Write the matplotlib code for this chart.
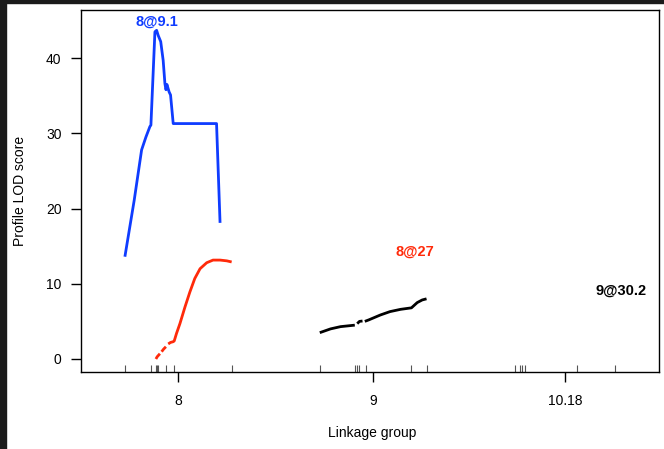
import matplotlib
matplotlib.use('Agg')
import matplotlib.pyplot as plt
from matplotlib.patches import Rectangle
import numpy as np

plt.rcParams['font.family'] = ['Liberation Sans', 'DejaVu Sans']

# ---- data ----
chr_names = ['8', '9', '10.18']
chr_lengths = [30.5, 30.5, 28.6]
gap = 25.0

markers_8 = [0, 7.3, 8.8, 9.1, 9.4, 11.6, 14.0, 30.5]
markers_9 = [0, 9.9, 10.5, 11.05, 13.3, 26.0, 30.4]
markers_10 = [0, 1.6, 2.2, 2.95, 17.7, 28.6]

# QTL 8@9.1 (chr 8)
blue_pos = [0, 2.65, 4.76, 5.98, 7.12, 7.41, 8.55, 9.03, 9.5, 10.2, 10.9, 11.4,
            11.7, 11.97, 12.6, 13.0, 13.76, 26.1, 27.1]
blue_lod = [13.6, 21.1, 27.8, 29.5, 30.9, 31.1, 43.5, 43.7, 43.0, 42.2, 39.7, 36.6,
            35.8, 36.5, 35.5, 35.1, 31.3, 31.3, 18.1]

# QTL 8@27 (chr 8), NaN = break in the profile
red_pos = [8.83, 9.2, 9.97, np.nan, 10.46, 11.0, 11.68, np.nan,
           12.34, 13.0, 13.76, 14.05, 14.7, 15.67, 17.1, 18.5, 19.9, 21.4, 23.3,
           25.1, 27.1, 29.0, 30.4]
red_lod = [0.0, 0.3, 0.7, np.nan, 0.97, 1.3, 1.63, np.nan,
           2.0, 2.2, 2.3, 2.4, 3.4, 4.7, 6.9, 8.9, 10.7, 12.0, 12.8,
           13.15, 13.15, 13.05, 12.9]

# QTL 9@30.2 (chr 9)
black_pos = [0, 3.05, 5.9, 9.97, np.nan, 10.66, 11.31, 12.17, np.nan,
             12.82, 13.96, 17.25, 20.0, 23.0, 26.1, 27.75, 29.17, 30.4]
black_lod = [3.5, 4.0, 4.3, 4.5, np.nan, 4.7, 5.0, 5.05, np.nan,
             5.0, 5.2, 5.85, 6.3, 6.6, 6.8, 7.5, 7.85, 8.0]

qtl_labels = ['8@9.1', '8@27', '9@30.2']
qtl_label_pos = [9.1, 27.0, 30.2]
qtl_colors = ['#0f3cff', '#ff2a0a', '#000000']

# ---- layout ----
offsets = []
acc = 0.0
for L in chr_lengths:
    offsets.append(acc)
    acc += L + gap
total_end = offsets[-1] + chr_lengths[-1]

W, H = 664, 449
fig = plt.figure(figsize=(W / 100, H / 100), dpi=100)
ax = fig.add_axes([81 / W, 1 - 372 / H, 578 / W, 362 / H])

# dark strips at the top and left edges
fig.patches.append(Rectangle((0, 0), 6 / W, 1, transform=fig.transFigure,
                             color='#1b1b1b', zorder=-10))
fig.patches.append(Rectangle((0, 1 - 3 / H), 1, 3 / H, transform=fig.transFigure,
                             color='#1b1b1b', zorder=-10))

ymin, ymax = -1.73, 46.4
ax.set_xlim(-gap / 2, total_end + gap / 2)
ax.set_ylim(ymin, ymax)

profiles = [(0, blue_pos, blue_lod), (0, red_pos, red_lod), (1, black_pos, black_lod)]
for (ci, pos, lod), col in zip(profiles, qtl_colors):
    x = np.array(pos, dtype=float) + offsets[ci]
    ax.plot(x, lod, color=col, lw=2.0, solid_capstyle='butt')

# QTL labels (placed at position + offset of the i-th chromosome)
for i, (lab, p, col) in enumerate(zip(qtl_labels, qtl_label_pos, qtl_colors)):
    lod = [blue_lod, red_lod, black_lod][i]
    ymaxlod = np.nanmax(lod)
    ax.annotate(lab, (offsets[i] + p, ymaxlod), xytext=(0, 6), textcoords='offset points',
                ha='center', va='center', color=col, fontsize=10.5, fontweight='bold')

# marker rug
for ci, mk in enumerate([markers_8, markers_9, markers_10]):
    for m in mk:
        ax.plot([m + offsets[ci]] * 2, [ymin, ymin + 0.95], color='#555555', lw=0.8,
                solid_capstyle='butt')

ax.set_yticks([0, 10, 20, 30, 40])
ax.set_xticks([o + L / 2 for o, L in zip(offsets, chr_lengths)])
ax.set_xticklabels(chr_names)
ax.tick_params(axis='both', direction='out', length=7, width=1.0, labelsize=10, colors='black')
ax.tick_params(axis='x', pad=8.5)
ax.tick_params(axis='y', pad=7)
for sp in ax.spines.values():
    sp.set_linewidth(1.0)

ax.set_xlabel('Linkage group', fontsize=10)
ax.set_ylabel('Profile LOD score', fontsize=10)
ax.xaxis.set_label_coords((372 - 81) / 578, -(426 - 372) / 362)
ax.yaxis.set_label_coords(-(81 - 27) / 578, 0.5)

fig.savefig('out.png', dpi=100)
